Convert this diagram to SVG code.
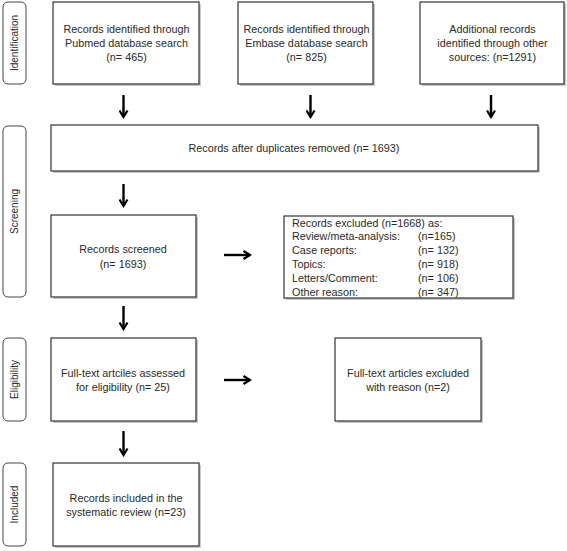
<svg xmlns="http://www.w3.org/2000/svg" width="567" height="551" viewBox="0 0 567 551">
<defs>
<style>
.box{fill:#fff;stroke:#333;stroke-width:1.2}
.sh{fill:#c8c8c8}
.side{fill:#fff;stroke:#444;stroke-width:1}
text{font-family:"Liberation Sans",Arial,sans-serif;font-size:10.8px;fill:#2a2a2a}
.c{text-anchor:middle}
.v{font-size:10px}
.arr{stroke:#000;stroke-width:2.4;fill:none}
</style>
<marker id="ah" viewBox="0 0 10 10" refX="8.5" refY="5" markerWidth="10" markerHeight="10" orient="auto" markerUnits="userSpaceOnUse">
<path d="M2,1 L8.5,5 L2,9" fill="none" stroke="#000" stroke-width="2.2"/>
</marker>
</defs>
<rect width="567" height="551" fill="#fff"/>

<g id="phase-identification">
<rect class="side" x="3" y="2" width="23" height="82" rx="5"/>
<text class="c v" transform="translate(18,43) rotate(-90)">Identification</text>
</g>
<g id="phase-screening">
<rect class="side" x="3" y="126" width="23" height="171" rx="5"/>
<text class="c v" transform="translate(18,211.5) rotate(-90)">Screening</text>
</g>
<g id="phase-eligibility">
<rect class="side" x="3" y="338" width="23" height="83" rx="5"/>
<text class="c v" transform="translate(18,379.5) rotate(-90)">Eligibility</text>
</g>
<g id="phase-included">
<rect class="side" x="3" y="463" width="23" height="83" rx="5"/>
<text class="c v" transform="translate(18,504.5) rotate(-90)">Included</text>
</g>

<g id="pubmed">
<rect class="sh" x="55" y="4" width="146" height="82"/>
<rect class="box" x="53" y="2" width="146" height="82"/>
<text class="c" x="126.5" y="32.5">Records identified through</text>
<text class="c" x="126.5" y="46.5">Pubmed database search</text>
<text class="c" x="126.5" y="60.5">(n= 465)</text>
</g>
<g id="embase">
<rect class="sh" x="240" y="4" width="135" height="82"/>
<rect class="box" x="238" y="2" width="135" height="82"/>
<text class="c" x="306.5" y="32.5">Records identified through</text>
<text class="c" x="306.5" y="46.5">Embase database search</text>
<text class="c" x="306.5" y="60.5">(n= 825)</text>
</g>
<g id="other">
<rect class="sh" x="422" y="4" width="144" height="82"/>
<rect class="box" x="420" y="2" width="144" height="82"/>
<text class="c" x="492.5" y="32.5">Additional records</text>
<text class="c" x="492.5" y="46.5">identified through other</text>
<text class="c" x="492.5" y="60.5">sources: (n=1291)</text>
</g>
<g id="dedup">
<rect class="sh" x="53" y="127" width="487" height="46"/>
<rect class="box" x="51" y="125" width="487" height="46"/>
<text class="c" x="294" y="151.5">Records after duplicates removed (n= 1693)</text>
</g>
<g id="screened">
<rect class="sh" x="53" y="217" width="145" height="82"/>
<rect class="box" x="51" y="215" width="145" height="82"/>
<text class="c" x="123" y="252.5">Records screened</text>
<text class="c" x="123" y="267.5">(n= 1693)</text>
</g>
<g id="excluded">
<rect class="sh" x="286" y="218" width="229" height="82"/>
<rect class="box" x="284" y="216" width="229" height="82"/>
<text x="292" y="226.5">Records excluded (n=1668) as:</text>
<text x="292" y="240.3">Review/meta-analysis:</text>
<text x="418" y="240.3">(n=165)</text>
<text x="292" y="254">Case reports:</text>
<text x="418" y="254">(n= 132)</text>
<text x="292" y="268">Topics:</text>
<text x="418" y="268">(n= 918)</text>
<text x="292" y="281.8">Letters/Comment:</text>
<text x="418" y="281.8">(n= 106)</text>
<text x="292" y="295.5">Other reason:</text>
<text x="418" y="295.5">(n= 347)</text>
</g>
<g id="fulltext">
<rect class="sh" x="53" y="340" width="145" height="83"/>
<rect class="box" x="51" y="338" width="145" height="83"/>
<text class="c" x="123" y="376.5">Full-text artciles assessed</text>
<text class="c" x="123" y="390.5">for eligibility (n= 25)</text>
</g>
<g id="ft-excluded">
<rect class="sh" x="337" y="340" width="146" height="83"/>
<rect class="box" x="335" y="338" width="146" height="83"/>
<text class="c" x="408" y="376.5">Full-text articles excluded</text>
<text class="c" x="408" y="390.5">with reason (n=2)</text>
</g>
<g id="included">
<rect class="sh" x="55" y="465" width="146" height="83"/>
<rect class="box" x="53" y="463" width="146" height="83"/>
<text class="c" x="126" y="501.5">Records included in the</text>
<text class="c" x="126" y="515.5">systematic review (n=23)</text>
</g>

<g id="connectors">
<line class="arr" x1="123.5" y1="95" x2="123.5" y2="117" marker-end="url(#ah)"/>
<line class="arr" x1="310.5" y1="95" x2="310.5" y2="117" marker-end="url(#ah)"/>
<line class="arr" x1="491" y1="95" x2="491" y2="117" marker-end="url(#ah)"/>
<line class="arr" x1="123.5" y1="184" x2="123.5" y2="206" marker-end="url(#ah)"/>
<line class="arr" x1="224" y1="255" x2="250" y2="255" marker-end="url(#ah)"/>
<line class="arr" x1="123.5" y1="306" x2="123.5" y2="329" marker-end="url(#ah)"/>
<line class="arr" x1="224" y1="380" x2="250" y2="380" marker-end="url(#ah)"/>
<line class="arr" x1="123.5" y1="431" x2="123.5" y2="455" marker-end="url(#ah)"/>
</g>
</svg>
